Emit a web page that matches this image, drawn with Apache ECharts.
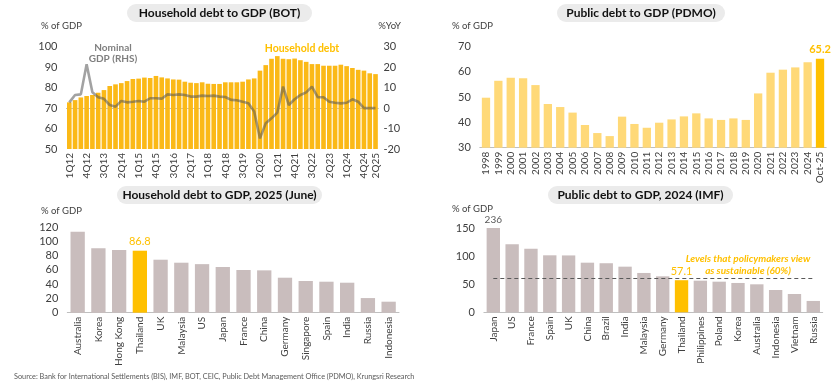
<!DOCTYPE html>
<html><head><meta charset="utf-8">
<script src="https://cdn.jsdelivr.net/npm/echarts@6/dist/echarts.min.js"></script>
<style>html,body{margin:0;padding:0;background:#fff}#c{width:840px;height:390px}</style>
</head><body><div id="c"></div>
<script>
// ---------- Data ----------
const hhQuarters = ['1Q12','2Q12','3Q12','4Q12','1Q13','2Q13','3Q13','4Q13','1Q14','2Q14','3Q14','4Q14',
  '1Q15','2Q15','3Q15','4Q15','1Q16','2Q16','3Q16','4Q16','1Q17','2Q17','3Q17','4Q17',
  '1Q18','2Q18','3Q18','4Q18','1Q19','2Q19','3Q19','4Q19','1Q20','2Q20','3Q20','4Q20',
  '1Q21','2Q21','3Q21','4Q21','1Q22','2Q22','3Q22','4Q22','1Q23','2Q23','3Q23','4Q23',
  '1Q24','2Q24','3Q24','4Q24','1Q25','2Q25'];
const hhDebt = [72.8,73.9,75.2,75.9,76.4,77.5,78.8,80.8,81.6,82.2,83.2,84.2,
  84.4,84.9,84.7,85.7,85.0,84.5,84.0,83.9,82.9,82.4,82.2,82.6,
  81.9,81.8,81.8,82.6,82.6,82.6,82.9,84.0,84.5,88.3,91.0,94.1,
  95.4,94.1,93.9,94.2,93.4,92.6,91.5,91.5,90.7,90.7,90.7,91.2,
  90.5,89.6,88.7,88.3,87.0,86.6];
const nominalGdp = [2.8,6.4,6.7,21.4,7.7,5.3,4.5,1.5,0.7,3.5,2.8,3.1,
  3.5,3.1,4.8,4.8,4.6,6.7,6.4,6.7,6.4,5.6,5.6,6.1,
  5.9,6.1,5.6,5.4,4.0,3.8,3.1,2.3,-1.7,-14.8,-7.4,-5.0,
  -2.2,10.5,1.5,4.3,6.4,7.7,10.5,5.3,5.3,3.1,2.6,2.3,
  2.6,4.3,3.1,0.0,0.0,0.0];
const hhExtraLabel = '2Q25';

const pdmoYears = ['1998','1999','2000','2001','2002','2003','2004','2005','2006','2007','2008','2009',
  '2010','2011','2012','2013','2014','2015','2016','2017','2018','2019','2020','2021','2022','2023','2024','Oct-25'];
const pdmoDebt = [49.8,56.5,57.7,57.5,54.8,47.3,46.1,43.9,39.0,35.8,34.6,42.3,
  39.4,37.9,39.9,41.2,42.4,43.6,41.6,41.0,41.6,41.0,51.5,59.7,60.9,61.8,63.8,65.2];

const hhCountries = ['Australia','Korea','Hong Kong','Thailand','UK','Malaysia','US','Japan','France','China',
  'Germany','Singapore','Spain','India','Russia','Indonesia'];
const hhCountryDebt = [113.4,90.1,87.8,86.8,74.2,70.0,68.0,64.0,59.8,59.3,49.0,44.4,43.4,42.0,20.5,15.4];

const imfCountries = ['Japan','US','France','Spain','UK','China','Brazil','India','Malaysia','Germany','Thailand',
  'Philippines','Poland','Korea','Australia','Indonesia','Vietnam','Russia'];
const imfDebt = [236,120.9,113.2,101.4,101.2,88.3,87.3,81.2,70.0,64.0,57.1,56.3,54.5,52.2,49.8,39.7,32.6,20.2];
const sustainableLevel = 60;
const imfAxisMax = 150;
const highlight = 'Thailand';

// ---------- Styles ----------
const FONT = 'Lato, "Open Sans", sans-serif';
const ORANGE = '#FFC000';
const TAUPE = '#C9BDBD';
const LABEL = '#404040';
const AXIS = '#BFBFBF';

const chart = echarts.init(document.getElementById('c'), null, {renderer:'canvas'});

function xCat(grid, data, extra) {
  return Object.assign({
    type:'category', gridIndex:grid, data:data,
    axisTick:{show:false},
    axisLine:{lineStyle:{color:AXIS, width:1}},
    axisLabel:{rotate:90, fontSize:10, color:LABEL, margin:4, fontFamily:FONT, interval:0}
  }, extra || {});
}
function yVal(grid, min, max, interval, extra) {
  return Object.assign({
    type:'value', gridIndex:grid, min:min, max:max, interval:interval,
    axisLine:{show:false}, axisTick:{show:false}, splitLine:{show:false},
    axisLabel:{fontSize:11, color:LABEL, margin:9, fontFamily:FONT}
  }, extra || {});
}

function pill(x, y, w, h, text) {
  return [
    {type:'rect', shape:{x:x, y:y, width:w, height:h, r:h/2}, style:{fill:'#EBEBEB'}, silent:true},
    {type:'text', x:x + w/2, y:y + h/2 + 0.5, silent:true,
     style:{text:text, fill:'#111', fontSize:12, fontWeight:'bold', fontFamily:FONT, align:'center', verticalAlign:'middle'}}
  ];
}
function txt(x, y, text, o) {
  return {type:'text', x:x, y:y, silent:true,
    style:Object.assign({text:text, fill:LABEL, fontSize:9.5, fontFamily:FONT, align:'left', verticalAlign:'middle'}, o || {})};
}

const pdmoLast = pdmoYears.length - 1;
const pdmoData = pdmoDebt.map((v, i) => i === pdmoLast
  ? {value:v, itemStyle:{color:ORANGE}, label:{show:true, position:'top', distance:4, color:ORANGE, fontSize:11, fontWeight:'bold', fontFamily:FONT}}
  : v);

const hhCountryData = hhCountryDebt.map((v, i) => hhCountries[i] === highlight
  ? {value:v, itemStyle:{color:ORANGE}, label:{show:true, position:'top', distance:4, color:ORANGE, fontSize:11, fontFamily:FONT}}
  : v);

const imfData = imfDebt.map((v, i) => {
  const shown = Math.min(v, imfAxisMax);
  if (imfCountries[i] === highlight)
    return {value:shown, itemStyle:{color:ORANGE}, label:{show:true, position:'top', distance:3, color:ORANGE, fontSize:11, fontFamily:FONT, formatter:String(v)}};
  if (v > imfAxisMax)
    return {value:shown, label:{show:true, position:'top', distance:3, color:'#595959', fontSize:10, fontFamily:FONT, formatter:String(v)}};
  return shown;
});

const graphics = [].concat(
  pill(127, 4, 185, 18, 'Household debt to GDP (BOT)'),
  pill(557, 4, 168, 18, 'Public debt to GDP (PDMO)'),
  pill(117, 186, 205, 18, 'Household debt to GDP, 2025 (June)'),
  pill(548, 186, 185, 18, 'Public debt to GDP, 2024 (IMF)'),
  [
    txt(41, 26, '% of GDP'),
    txt(401, 26, '%YoY', {align:'right'}),
    txt(452, 26, '% of GDP'),
    txt(41, 211, '% of GDP'),
    txt(452, 209, '% of GDP'),
    txt(113, 53, 'Nominal\nGDP (RHS)', {fill:'#7F7F7F', align:'center', fontSize:10, fontWeight:'bold', lineHeight:11}),
    txt(302, 49, 'Household debt', {fill:ORANGE, align:'center', fontSize:10.5, fontWeight:'bold'}),
    txt(748, 265, 'Levels that policymakers view\nas sustainable (60%)', {fill:ORANGE, align:'center', fontSize:10, fontStyle:'italic', fontWeight:'bold', lineHeight:11.5}),
    txt(14, 377, 'Source: Bank for International Settlements (BIS), IMF, BOT, CEIC, Public Debt Management Office (PDMO), Krungsri Research', {fill:'#595959', fontSize:7.3})
  ]
);

const option = {
  animation:false,
  textStyle:{fontFamily:FONT},
  grid:[
    {left:66.4, top:46.7, width:312, height:102.3},
    {left:479.8, top:46.7, width:346.4, height:101},
    {left:67.3, top:227, width:331.7, height:85.7},
    {left:483.9, top:228, width:338.8, height:84.3}
  ],
  xAxis:[
    xCat(0, hhQuarters, {axisLabel:{rotate:90, fontSize:10, color:LABEL, margin:4, fontFamily:FONT,
      interval:(i, v) => i % 3 === 0 || v === hhExtraLabel}}),
    xCat(1, pdmoYears),
    xCat(2, hhCountries),
    xCat(3, imfCountries)
  ],
  yAxis:[
    yVal(0, 50, 100, 10),
    yVal(0, -20, 30, 10, {position:'right', axisLabel:{fontSize:11, color:LABEL, margin:5, fontFamily:FONT}}),
    yVal(1, 30, 70, 10),
    yVal(2, 0, 120, 20),
    yVal(3, 0, imfAxisMax, 50)
  ],
  series:[
    {type:'bar', name:'Household debt', xAxisIndex:0, yAxisIndex:0, data:hhDebt,
     barCategoryGap:'20%', itemStyle:{color:'#FBB917'}},
    {type:'line', name:'Nominal GDP (RHS)', xAxisIndex:0, yAxisIndex:1, data:nominalGdp,
     symbol:'none', lineStyle:{color:'#555555', width:2.6, opacity:0.55}, z:5},
    {type:'bar', name:'Public debt', xAxisIndex:1, yAxisIndex:2, data:pdmoData,
     barCategoryGap:'33%', itemStyle:{color:'#FFD978'}},
    {type:'bar', name:'Household debt 2025', xAxisIndex:2, yAxisIndex:3, data:hhCountryData,
     barCategoryGap:'31%', itemStyle:{color:TAUPE}},
    {type:'bar', name:'Public debt 2024', xAxisIndex:3, yAxisIndex:4, data:imfData,
     barCategoryGap:'29%', itemStyle:{color:TAUPE},
     markLine:{silent:true, symbol:'none', label:{show:false},
       lineStyle:{color:'#595959', type:[4,3], width:1},
       data:[[{xAxis:imfCountries[0], yAxis:sustainableLevel},{xAxis:imfCountries[imfCountries.length-1], yAxis:sustainableLevel}]]}}
  ],
  graphic:graphics
};
chart.setOption(option);
</script>
</body></html>
